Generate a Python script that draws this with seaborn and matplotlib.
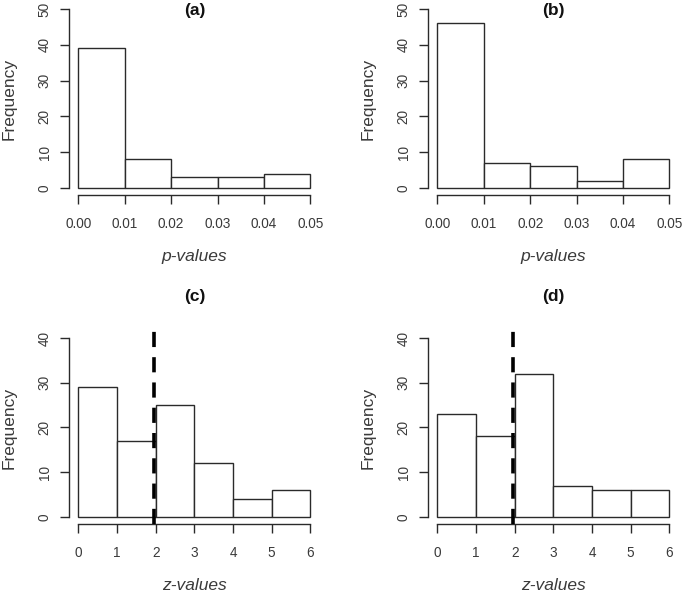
"""Four R-style frequency histograms: p-values (a, b) and z-values (c, d)."""

import matplotlib

matplotlib.use("Agg")
import matplotlib.pyplot as plt
import numpy as np
import pandas as pd
import seaborn as sns

# Bin edges and counts
p_edges = [0.00, 0.01, 0.02, 0.03, 0.04, 0.05]
p_counts_a = [39, 8, 3, 3, 4]
p_counts_b = [46, 7, 6, 2, 8]

z_edges = [0, 1, 2, 3, 4, 5, 6]
z_counts_c = [29, 17, 25, 12, 4, 6]
z_counts_d = [23, 18, 32, 7, 6, 6]
z_cutoff = 1.96

p_ticks = [0.00, 0.01, 0.02, 0.03, 0.04, 0.05]
p_ticklabels = ["0.00", "0.01", "0.02", "0.03", "0.04", "0.05"]
z_ticks = [0, 1, 2, 3, 4, 5, 6]
top_yticks = [0, 10, 20, 30, 40, 50]
bottom_yticks = [0, 10, 20, 30, 40]

sns.set_theme(style="white")
plt.rcParams["font.family"] = ["Liberation Sans", "DejaVu Sans"]

TEXT = "#3a3a3a"
LINE = "#2a2a2a"
FS = 9.8      # tick labels
LFS = 12.5    # axis labels and panel titles

fig = plt.figure(figsize=(6.85, 5.93), dpi=100)

# axes boxes in figure fractions (R plot regions)
boxes = {
    "a": [0.1007, 0.6712, 0.366, 0.3255],
    "b": [0.6248, 0.6712, 0.366, 0.3255],
    "c": [0.1007, 0.1164, 0.366, 0.3255],
    "d": [0.6248, 0.1164, 0.366, 0.3255],
}


def r_hist(ax, edges, counts, xticks, xticklabels, yticks, xlabel, title, title_y, cutoff=None):
    arr = np.asarray(edges, dtype=float)
    df = pd.DataFrame({"mid": (arr[:-1] + arr[1:]) / 2, "count": counts})
    sns.histplot(
        data=df,
        x="mid",
        weights="count",
        bins=list(arr),
        color="white",
        edgecolor=LINE,
        linewidth=1.0,
        alpha=1.0,
        ax=ax,
    )
    if cutoff is not None:
        ax.axvline(cutoff, color="black", linewidth=2.6, dashes=(4.2, 2.8), zorder=5)

    # R default 4% padding on both axes
    xr = arr[-1] - arr[0]
    ax.set_xlim(arr[0] - 0.04 * xr, arr[-1] + 0.04 * xr)
    yr = yticks[-1] - yticks[0]
    ax.set_ylim(yticks[0] - 0.04 * yr, yticks[-1] + 0.04 * yr)

    ax.set_xticks(xticks)
    ax.set_xticklabels(xticklabels, fontsize=FS, color=TEXT)
    ax.set_yticks(yticks)
    ax.set_yticklabels([str(v) for v in yticks], fontsize=FS, color=TEXT,
                       rotation=90, va="center")

    for side in ("top", "right"):
        ax.spines[side].set_visible(False)
    ax.spines["left"].set_bounds(yticks[0], yticks[-1])
    ax.spines["bottom"].set_bounds(xticks[0], xticks[-1])
    for side in ("left", "bottom"):
        ax.spines[side].set_color(LINE)
        ax.spines[side].set_linewidth(1.0)

    ax.tick_params(axis="both", direction="out", length=6.5, width=1.0,
                   color=LINE, left=True, bottom=True)
    ax.tick_params(axis="x", pad=9.5)
    ax.tick_params(axis="y", pad=6)

    ax.set_xlabel(xlabel, fontsize=LFS, color=TEXT, style="italic", labelpad=13)
    ax.set_ylabel("Frequency", fontsize=LFS, color=TEXT, labelpad=15)
    ax.text(0.5, title_y, title, transform=ax.transAxes, ha="center", va="center",
            fontsize=LFS, fontweight="bold", color="#111111")


ax_a = fig.add_axes(boxes["a"])
r_hist(ax_a, p_edges, p_counts_a, p_ticks, p_ticklabels, top_yticks,
       "p-values", "(a)", 0.958)

ax_b = fig.add_axes(boxes["b"])
r_hist(ax_b, p_edges, p_counts_b, p_ticks, p_ticklabels, top_yticks,
       "p-values", "(b)", 0.958)

ax_c = fig.add_axes(boxes["c"])
r_hist(ax_c, z_edges, z_counts_c, z_ticks, [str(v) for v in z_ticks], bottom_yticks,
       "z-values", "(c)", 1.176, cutoff=z_cutoff)

ax_d = fig.add_axes(boxes["d"])
r_hist(ax_d, z_edges, z_counts_d, z_ticks, [str(v) for v in z_ticks], bottom_yticks,
       "z-values", "(d)", 1.176, cutoff=z_cutoff)

fig.savefig("out.png", dpi=100, facecolor="white")
plt.close(fig)
